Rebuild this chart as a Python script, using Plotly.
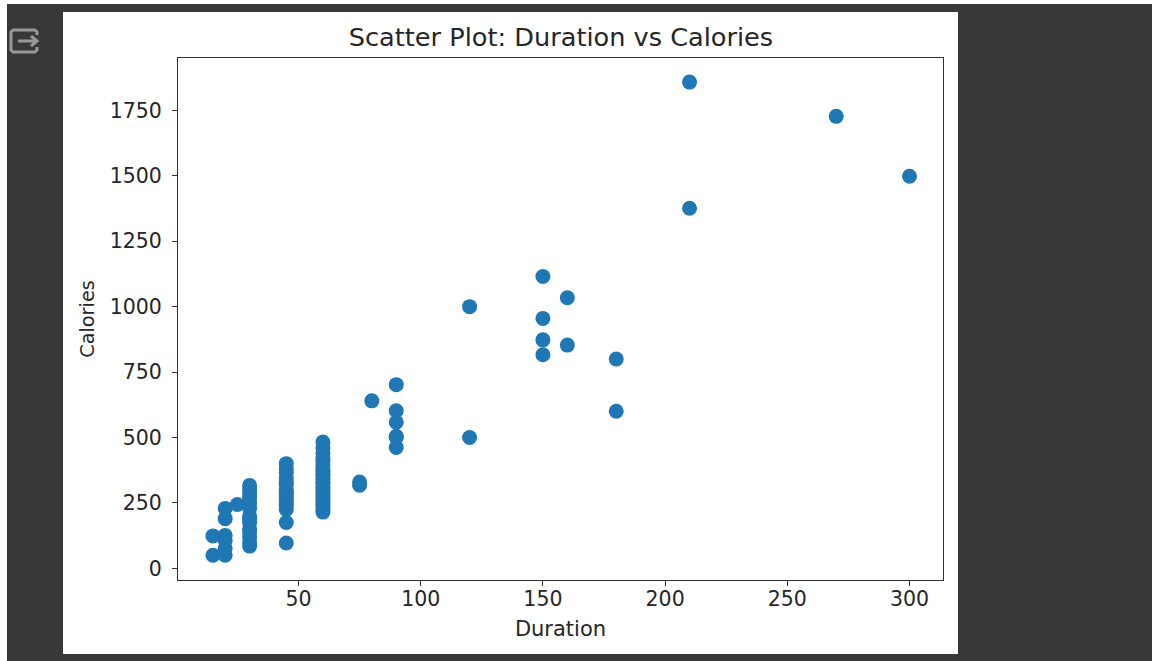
import plotly.graph_objects as go

# Data: (duration, calories per session)
durations = (
    [15] * 2 + [20] * 6 + [25] + [30] * 14 + [45] * 16 + [60] * 23 + [75] * 2 + [80]
    + [90] * 6 + [120] * 2 + [150] * 4 + [160] * 2 + [180] * 2 + [210] * 2 + [270] + [300]
)
calories_15 = [50, 124]
calories_20 = [50, 77, 107, 126, 190, 229]
calories_25 = [244]
calories_30 = [85, 100, 120, 140, 150, 175, 190, 200, 230, 250, 270, 285, 300, 317]
calories_45 = [97, 175, 225, 240, 250, 260, 270, 282, 290, 300, 320, 330, 345, 365, 380, 400]
calories_60 = [215, 225, 240, 250, 260, 270, 280, 290, 300, 310, 320, 330, 340, 350, 360,
               370, 380, 395, 410, 420, 440, 460, 483]
calories_75 = [318, 330]
calories_80 = [640]
calories_90 = [462, 500, 505, 558, 602, 702]
calories_120 = [500, 1000]
calories_150 = [816, 873, 955, 1115]
calories_160 = [853, 1034]
calories_180 = [600, 800]
calories_210 = [1376, 1858]
calories_270 = [1727]
calories_300 = [1498]
calories = (calories_15 + calories_20 + calories_25 + calories_30 + calories_45 + calories_60
            + calories_75 + calories_80 + calories_90 + calories_120 + calories_150 + calories_160
            + calories_180 + calories_210 + calories_270 + calories_300)

x_ticks = [50, 100, 150, 200, 250, 300]
y_ticks = [0, 250, 500, 750, 1000, 1250, 1500, 1750]

W, H = 1152, 661
L, R, T, B = 178, 943, 58, 580


def px(v):
    return (v - L) / (R - L)


def py(v):
    return (B - v) / (B - T)


def rect(x0, y0, x1, y1, fill):
    return dict(type="rect", xref="paper", yref="paper", layer="below",
                x0=px(x0), x1=px(x1), y0=py(y0), y1=py(y1),
                fillcolor=fill, line=dict(width=0))


def path(points, width=3):
    d = ""
    for cmd, x, y in points:
        d += f"{cmd} {px(x):.5f} {py(y):.5f} "
    return dict(type="path", xref="paper", yref="paper", path=d.strip(),
                line=dict(color="#989898", width=width))


shapes = [
    rect(7, 4, W + 2, H + 2, "#383838"),
    rect(63, 12, 958, 654, "#ffffff"),
    path([("M", 37, 35), ("L", 37, 32), ("L", 35, 30), ("L", 13, 30), ("L", 11, 32),
          ("L", 11, 50), ("L", 13, 52), ("L", 35, 52), ("L", 37, 50), ("L", 37, 47)]),
    path([("M", 18, 41), ("L", 37, 41)]),
    path([("M", 31, 36), ("L", 37, 41), ("L", 31, 46)]),
]

x_title_font = dict(family="DejaVu Sans", size=21, color="#262626")
y_title_font = dict(family="DejaVu Sans", size=19.3, color="#262626")
tick_font = dict(family="DejaVu Sans", size=20.5, color="#262626")

fig = go.Figure(
    go.Scatter(x=durations, y=calories, mode="markers",
               marker=dict(color="#1f77b4", size=15, line=dict(width=0)))
)
fig.update_layout(
    width=W, height=H, autosize=False,
    margin=dict(l=L, r=W - R, t=T, b=H - B, pad=0),
    paper_bgcolor="#ffffff", plot_bgcolor="rgba(0,0,0,0)",
    showlegend=False, shapes=shapes,
    title=dict(text="Scatter Plot: Duration vs Calories", x=561 / W, xanchor="center",
               y=1 - 37 / H, yanchor="middle",
               font=dict(family="DejaVu Sans", size=25.6, color="#262626")),
)
common = dict(showgrid=False, zeroline=False, showline=True, mirror=True, linecolor="#333333",
              linewidth=1.2, ticks="outside", ticklen=5, tickwidth=1.2, tickcolor="#333333",
              tickfont=tick_font)
fig.update_xaxes(range=[0.7, 313.7], tickmode="array", tickvals=x_ticks, ticklabelstandoff=-5,
                 title=dict(text="Duration", font=x_title_font, standoff=11), **common)
fig.update_yaxes(range=[-44.5, 1950], tickmode="array", tickvals=y_ticks, ticklabelstandoff=6,
                 title=dict(text="Calories", font=y_title_font, standoff=9), **common)

fig.write_html("out.html", config=dict(displayModeBar=False),
               post_script="document.body.style.margin='0';document.body.style.overflow='hidden';")
